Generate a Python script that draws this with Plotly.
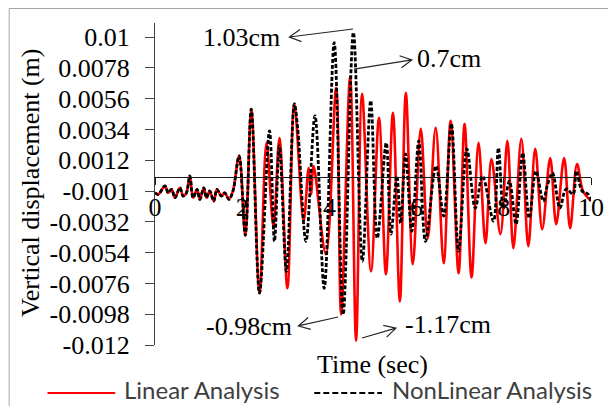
import math
import plotly.graph_objects as go

# ---------------- data ----------------
linear_t = [0, 0.075, 0.228, 0.304, 0.381, 0.457, 0.571, 0.646, 0.719, 0.799,
            0.874, 0.966, 1.027, 1.119, 1.180, 1.256, 1.347, 1.422, 1.523, 1.598,
            1.696, 1.788, 1.929, 2.071, 2.208, 2.397, 2.557, 2.717, 2.854, 3.037,
            3.196, 3.409, 3.523, 3.578, 3.637, 3.920, 4.155, 4.269, 4.475, 4.612,
            4.749, 4.954, 5.137, 5.297, 5.457, 5.616, 5.753, 5.913, 6.096, 6.256,
            6.438, 6.621, 6.781, 6.963, 7.100, 7.260, 7.420, 7.580, 7.717, 7.922,
            8.082, 8.219, 8.402, 8.562, 8.721, 8.881, 9.064, 9.201, 9.384, 9.521,
            9.680, 9.817, 10.0]
linear_v = [-0.00113, -0.00124, -0.00064, -0.00113, -0.00088, -0.00148, -0.00077, -0.00136, -0.00115, 0.00007,
            -0.00148, -0.00088, -0.0016, -0.00077, -0.00148, -0.001, -0.00172, -0.00088, -0.00136, -0.00113,
            -0.0016, -0.001, 0.0015, -0.00416, 0.00485, -0.00829, 0.00244, -0.00351, 0.00279, -0.00795,
            0.00523, -0.00315, 0.00064, -0.00122, 0.00079, -0.00552, 0.00638, -0.00982, 0.0072, -0.0117,
            0.00595, -0.00674, 0.00423, -0.00695, 0.00459, -0.00889, 0.00602, -0.00623, 0.00344, -0.00437,
            0.00351, -0.00616, 0.00401, -0.00688, 0.0038, -0.00717, 0.00244, -0.00473, 0.00129, -0.00408,
            0.00258, -0.00509, 0.00272, -0.00494, 0.00201, -0.00373, 0.00136, -0.00337, 0.00136, -0.00365,
            0.00093, -0.0010, -0.00172]

nonlinear_t = [0, 0.075, 0.228, 0.304, 0.381, 0.457, 0.571, 0.646, 0.719, 0.799,
               0.874, 0.966, 1.027, 1.119, 1.180, 1.256, 1.347, 1.422, 1.523, 1.598,
               1.696, 1.788, 1.929, 2.071, 2.208, 2.397, 2.626, 2.740, 2.854, 3.014,
               3.196, 3.272, 3.463, 3.669, 3.881, 4.110, 4.315, 4.550, 4.756, 4.947,
               5.098, 5.304, 5.411, 5.548, 5.632, 5.747, 5.890, 6.050, 6.203, 6.445,
               6.621, 6.797, 6.963, 7.153, 7.345, 7.511, 7.763, 7.877, 7.991, 8.128,
               8.281, 8.432, 8.584, 8.737, 8.904, 8.995, 9.116, 9.285, 9.429, 9.589,
               9.664, 9.795, 9.932, 10.0]
nonlinear_v = [-0.00113, -0.00124, -0.00064, -0.00113, -0.00088, -0.00148, -0.00077, -0.00136, -0.00115, 0.00007,
               -0.00148, -0.00088, -0.0016, -0.00077, -0.00148, -0.001, -0.00172, -0.00088, -0.00136, -0.00113,
               -0.0016, -0.001, 0.0015, -0.00416, 0.00485, -0.00829, 0.0033, -0.00459, 0.00222, -0.00674,
               0.00523, 0.00351, -0.00459, 0.00437, -0.00795, 0.0096, -0.00982, 0.01032, -0.00602, 0.00545,
               -0.00437, 0.00244, -0.00408, 0.00007, -0.0033, 0.00165, -0.00387, 0.00258, -0.00459, 0.00079,
               -0.00279, 0.0038, -0.0053, 0.00201, -0.00222, 0.00007, -0.00315, 0.00208, -0.00222, -0.0003,
               -0.00337, 0.00172, -0.00294, 0.00043, -0.00172, -0.00064, 0.00029, -0.00222, -0.00086, -0.00122,
               0.00043, -0.001, -0.00122, -0.00172]

x_ticks = [0, 2, 4, 6, 8, 10]
y_ticks = [-0.012, -0.0098, -0.0076, -0.0054, -0.0032, -0.001, 0.0012, 0.0034, 0.0056, 0.0078, 0.01]
y_ticktext = ["-0.012", "-0.0098", "-0.0076", "-0.0054", "-0.0032", "-0.001",
              "0.0012", "0.0034", "0.0056", "0.0078", "0.01"]

series_names = ["Linear Analysis", "NonLinear Analysis"]

# callout labels: text, label position (t, v), arrow tail (t, v), arrow head (t, v)
callout_text = ["1.03cm", "0.7cm", "-0.98cm", "-1.17cm"]
callout_pos = [(1.975, 0.0100), (6.747, 0.0085), (2.146, -0.01071), (6.712, -0.0105)]
arrow_tail = [(4.543, 0.01057), (4.566, 0.00771), (4.201, -0.0100), (4.749, -0.0115)]
arrow_head = [(3.082, 0.0100), (5.890, 0.00836), (3.288, -0.01064), (5.525, -0.01079)]

# ---------------- layout geometry ----------------
# the page body adds an 8px margin, so the figure is drawn 8px smaller
W, H = 608, 398
ML, MR, MT, MB = 147, 23, 15, 61
X_RANGE = [0, 10]
Y_RANGE = [-0.012, 0.011]
PW, PH = W - ML - MR, H - MT - MB
PX_T = PW / (X_RANGE[1] - X_RANGE[0])
PX_V = PH / (Y_RANGE[1] - Y_RANGE[0])
PLOT_LEFT_PAGE = 155     # page pixel of plot-area left edge
PLOT_BOTTOM_PAGE = 345   # page pixel of plot-area bottom edge

SERIF = "Liberation Serif"
SANS = "Lato"

fig = go.Figure()
fig.add_trace(go.Scatter(
    x=linear_t, y=linear_v, mode="lines", name=series_names[0],
    line=dict(color="#ff0000", width=2.6, shape="spline", smoothing=1.0),
    showlegend=False))
fig.add_trace(go.Scatter(
    x=nonlinear_t, y=nonlinear_v, mode="lines", name=series_names[1],
    line=dict(color="#000000", width=2.8, dash="4px,2px", shape="spline", smoothing=1.0),
    showlegend=False))


def px_x(px):
    return (px - PLOT_LEFT_PAGE) / PW


def px_y(py):
    return (PLOT_BOTTOM_PAGE - py) / PH


shapes = []
# outer frame (only left/top edges visible in the reference)
shapes.append(dict(type="rect", xref="paper", yref="paper",
                   x0=px_x(8.5), x1=px_x(640), y0=px_y(430), y1=px_y(8.5),
                   line=dict(color="#a6a6a6", width=1), fillcolor="rgba(0,0,0,0)", layer="below"))


def arrow_path(t0, v0, t1, v1, L=13, ang=28):
    dx = (t1 - t0) * PX_T
    dy = (v1 - v0) * PX_V
    n = math.hypot(dx, dy)
    ux, uy = -dx / n, -dy / n
    pts = []
    for s in (1, -1):
        a = math.radians(ang) * s
        wx = ux * math.cos(a) - uy * math.sin(a)
        wy = ux * math.sin(a) + uy * math.cos(a)
        pts.append((t1 + wx * L / PX_T, v1 + wy * L / PX_V))
    return (f"M{t0},{v0} L{t1},{v1} M{pts[0][0]},{pts[0][1]} L{t1},{v1} "
            f"L{pts[1][0]},{pts[1][1]}")


for (t0, v0), (t1, v1) in zip(arrow_tail, arrow_head):
    shapes.append(dict(type="path", xref="x", yref="y", path=arrow_path(t0, v0, t1, v1),
                       line=dict(color="#262626", width=1.2)))

# legend (drawn manually to match long sample lines)
leg_y = px_y(393)
shapes.append(dict(type="line", xref="paper", yref="paper", x0=px_x(47), x1=px_x(115),
                   y0=leg_y, y1=leg_y, line=dict(color="#ff0000", width=2.2)))
shapes.append(dict(type="line", xref="paper", yref="paper", x0=px_x(315), x1=px_x(383),
                   y0=leg_y, y1=leg_y, line=dict(color="#000000", width=2.2, dash="6px,3px")))

annotations = []
for txt, (t, v) in zip(callout_text, callout_pos):
    annotations.append(dict(text=txt, x=t, y=v, xref="x", yref="y", showarrow=False,
                            xanchor="center", yanchor="middle",
                            font=dict(family=SERIF, size=26, color="#000000")))

annotations.append(dict(text="Time (sec)", x=px_x(373), y=px_y(365), xref="paper", yref="paper",
                        showarrow=False, xanchor="center", yanchor="middle",
                        font=dict(family=SERIF, size=26, color="#000000")))
annotations.append(dict(text="Vertical displacement (m)", x=px_x(30), y=px_y(182.5),
                        xref="paper", yref="paper", showarrow=False, textangle=-90,
                        xanchor="center", yanchor="middle",
                        font=dict(family=SERIF, size=26, color="#000000")))
annotations.append(dict(text=series_names[0], x=px_x(122), y=px_y(389), xref="paper", yref="paper",
                        showarrow=False, xanchor="left", yanchor="middle",
                        font=dict(family=SANS, size=24, color="#404040")))
annotations.append(dict(text=series_names[1], x=px_x(391), y=px_y(389), xref="paper", yref="paper",
                        showarrow=False, xanchor="left", yanchor="middle",
                        font=dict(family=SANS, size=24, color="#404040")))

zero_pos = (0 - Y_RANGE[0]) / (Y_RANGE[1] - Y_RANGE[0])

fig.update_layout(
    width=W, height=H, autosize=False,
    margin=dict(l=ML, r=MR, t=MT, b=MB, pad=0),
    paper_bgcolor="white", plot_bgcolor="white",
    showlegend=False,
    shapes=shapes, annotations=annotations,
    xaxis=dict(range=X_RANGE, tickvals=x_ticks, ticktext=[str(v) for v in x_ticks],
               anchor="free", position=zero_pos,
               showline=True, linecolor="#1a1a1a", linewidth=1.3,
               ticks="outside", ticklen=7, tickwidth=1.2, tickcolor="#1a1a1a",
               ticklabelstandoff=0,
               tickfont=dict(family=SERIF, size=26, color="#000000"),
               showgrid=False, zeroline=False),
    yaxis=dict(range=Y_RANGE, tickvals=y_ticks, ticktext=y_ticktext,
               showline=True, linecolor="#404040", linewidth=1.3,
               ticks="outside", ticklen=9, tickwidth=1.2, tickcolor="#404040",
               ticklabelstandoff=10,
               tickfont=dict(family=SERIF, size=26, color="#000000"),
               showgrid=False, zeroline=False),
)

fig.write_html("out.html")
